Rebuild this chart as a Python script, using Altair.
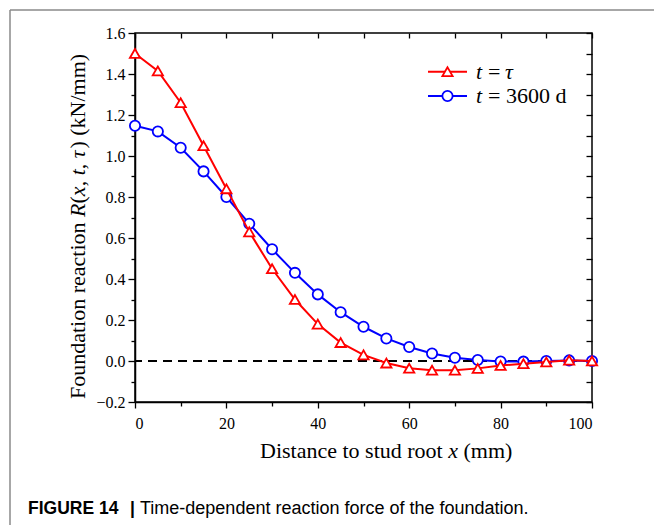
import altair as alt
import pandas as pd

# ---------------- data ----------------
x_mm = [0, 5, 10, 15, 20, 25, 30, 35, 40, 45, 50, 55, 60, 65, 70, 75, 80, 85, 90, 95, 100]
r_tau = [1.50, 1.415, 1.26, 1.05, 0.84, 0.63, 0.45, 0.30, 0.18, 0.09, 0.03, -0.01, -0.035,
         -0.045, -0.045, -0.036, -0.022, -0.013, -0.005, 0.004, 0.0]
r_3600 = [1.148, 1.12, 1.04, 0.925, 0.80, 0.67, 0.545, 0.43, 0.325, 0.238, 0.167, 0.11, 0.068,
          0.037, 0.016, 0.005, -0.002, -0.003, 0.0, 0.003, 0.0]
series_names = ["t = τ", "t = 3600 d"]
x_ticks = [0, 10, 20, 30, 40, 50, 60, 70, 80, 90, 100]
y_ticks = [-0.2, -0.1, 0.0, 0.1, 0.2, 0.3, 0.4, 0.5, 0.6, 0.7, 0.8, 0.9, 1.0,
           1.1, 1.2, 1.3, 1.4, 1.5, 1.6]

RED = "#ff0000"
BLUE = "#0000ff"
SERIF = "Liberation Serif"
SANS = "Liberation Sans"

df = pd.DataFrame({
    "x": x_mm + x_mm,
    "y": r_tau + r_3600,
    "s": [series_names[0]] * len(x_mm) + [series_names[1]] * len(x_mm),
})
one = pd.DataFrame({"k": [0]})

W, H = 457, 369
xs = alt.Scale(domain=[0, 100], nice=False, zero=False)
ys = alt.Scale(domain=[-0.2, 1.6], nice=False, zero=False)

left_axis = alt.Axis(
    orient="left", values=y_ticks, format=".1f",
    labelExpr="round(datum.value*10) % 2 === 0 ? datum.label : ''",
    tickSize={"condition": {"test": "round(datum.value*10) % 2 === 0", "value": 7}, "value": 4},
    labelPadding=3, labelFont=SERIF, labelFontSize=16, labelColor="black",
    domainColor="black", domainWidth=1.5, tickColor="black", tickWidth=1.3,
    grid=False, title=None,
)
bottom_axis = alt.Axis(
    orient="bottom", values=x_ticks, format="d",
    labelExpr="datum.value % 20 === 0 ? datum.label : ''",
    tickSize={"condition": {"test": "datum.value % 20 === 0", "value": 6}, "value": 4},
    labelPadding=7, labelFont=SERIF, labelFontSize=16, labelColor="black",
    domainColor="black", domainWidth=1.5, tickColor="black", tickWidth=1.3,
    grid=False, title=None,
)
top_axis = alt.Axis(orient="top", values=x_ticks, labels=False, domain=False, tickSize=5,
                    offset=-5, tickColor="black", tickWidth=1.3, grid=False, title=None)
right_axis = alt.Axis(orient="right", values=y_ticks, labels=False, domain=False, tickSize=6,
                      offset=-6, tickColor="black", tickWidth=1.3, grid=False, title=None)

axes_layer = alt.Chart(df).mark_line(opacity=0).encode(
    x=alt.X("x:Q", scale=xs, axis=bottom_axis),
    y=alt.Y("y:Q", scale=ys, axis=left_axis),
    detail="s:N",
)
mirror_layer = alt.Chart(df).mark_line(opacity=0).encode(
    x=alt.X("x:Q", scale=xs, axis=top_axis),
    y=alt.Y("y:Q", scale=ys, axis=right_axis),
    detail="s:N",
)

zero_line = alt.Chart(pd.DataFrame({"y": [0.0]})).mark_rule(
    color="black", strokeWidth=1.8, strokeDash=[9, 6]
).encode(y=alt.Y("y:Q", scale=ys, axis=None))


def series_layers(name, color, shape, size):
    base = alt.Chart(df).transform_filter(alt.datum.s == name).encode(
        x=alt.X("x:Q", scale=xs, axis=None),
        y=alt.Y("y:Q", scale=ys, axis=None),
    )
    line = base.mark_line(color=color, strokeWidth=2)
    pts = base.mark_point(shape=shape, size=size, filled=True, fill="white", stroke=color,
                          strokeWidth=1.8, opacity=1, fillOpacity=1)
    return [line, pts]


blue_layers = series_layers(series_names[1], BLUE, "circle", 105)
red_layers = series_layers(series_names[0], RED, "triangle-up", 105)

# ---------------- legend (drawn manually) ----------------
leg_df = pd.DataFrame({"s": series_names})
leg_rows = [(series_names[0], RED, "triangle-up", 38.7), (series_names[1], BLUE, "circle", 63.0)]
legend_layers = []
for name, color, shape, yy in leg_rows:
    b = alt.Chart(leg_df).transform_filter(alt.datum.s == name)
    legend_layers.append(b.mark_rule(color=color, strokeWidth=2).encode(
        x=alt.value(293), x2=alt.value(332), y=alt.value(yy)))
    legend_layers.append(b.mark_point(shape=shape, size=105, filled=True, fill="white",
                                      stroke=color, strokeWidth=1.8, opacity=1).encode(
        x=alt.value(312.5), y=alt.value(yy)))


def txt(text, x, y, size=22, style="normal", weight="normal", font=SERIF, angle=0,
        align="left", baseline="middle"):
    kw = dict(text=text, font=font, fontSize=size, fontStyle=style, fontWeight=weight,
              align=align, baseline=baseline, color="black")
    if angle:
        kw["angle"] = angle
    return alt.Chart(one).mark_text(**kw).encode(x=alt.value(x), y=alt.value(y))


legend_layers += [
    txt("t", 341, 38.7, style="italic"),
    txt("=", 353, 38.7),
    txt("τ", 370, 38.7, style="italic"),
    txt("t", 341, 63.0, style="italic"),
    txt("= 3600 d", 353, 63.0),
]

# ---------------- axis titles with italic pieces ----------------
# (text, style, advance width in 1/1000 em; leading spaces are expressed as advance only)
FS = 22
y_pieces = [("Foundation reaction", "normal", 8277), ("R", "italic", 611), ("(", "normal", 333),
            ("x", "italic", 444), (",", "normal", 500), ("t", "italic", 278),
            (",", "normal", 500), ("τ", "italic", 440), (")", "normal", 583),
            ("(kN/mm)", "normal", 3722)]
title_layers = []
pos = 366.0
for t, st, w in y_pieces:
    title_layers.append(txt(t, -50, pos, size=FS, style=st, angle=270, baseline="alphabetic"))
    pos -= w * FS / 1000.0

x_pieces = [("Distance to stud root", "normal", 8555), ("x", "italic", 694), ("(mm)", "normal", 2222)]
pos = 125.0
for t, st, w in x_pieces:
    title_layers.append(txt(t, pos, 425, size=FS, style=st, baseline="alphabetic"))
    pos += w * FS / 1000.0

# ---------------- caption and frame ----------------
caption_layers = [
    txt("FIGURE 14", -107, 481, size=17.5, weight="bold", font=SANS, baseline="alphabetic"),
    txt("|", -5, 481, size=17.5, weight="bold", font=SANS, baseline="alphabetic"),
    txt("Time-dependent reaction force of the foundation.", 5, 481, size=18, font=SANS,
        baseline="alphabetic"),
]
frame_layers = [
    alt.Chart(one).mark_rule(color="#8a8a8a", strokeWidth=1.5).encode(
        x=alt.value(-125), x2=alt.value(519), y=alt.value(-23)),
    alt.Chart(one).mark_rule(color="#8a8a8a", strokeWidth=1.5).encode(
        x=alt.value(-125), y=alt.value(-23), y2=alt.value(492)),
]

chart = alt.layer(
    axes_layer, mirror_layer, zero_line, *blue_layers, *red_layers,
    *legend_layers, *title_layers, *caption_layers, *frame_layers,
).resolve_axis(
    x="independent", y="independent"
).properties(
    width=W, height=H,
    autosize=alt.AutoSizeParams(type="none"),
    padding={"left": 135, "top": 33, "right": 62, "bottom": 123},
    background="white",
).configure_view(stroke="black", strokeWidth=1.5)

chart.save("out.html", embed_options={"renderer": "svg", "actions": False})
